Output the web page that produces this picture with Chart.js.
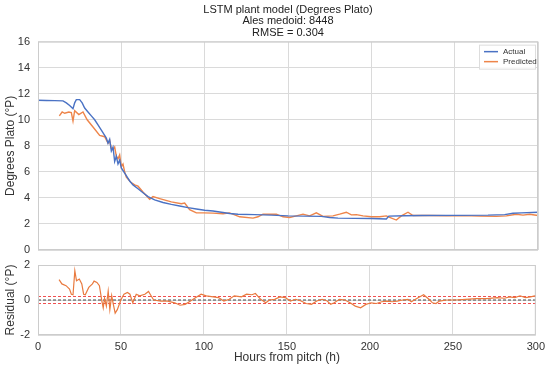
<!DOCTYPE html>
<html>
<head>
<meta charset="utf-8">
<script src="https://cdn.jsdelivr.net/npm/chart.js@4.4.0/dist/chart.umd.min.js"></script>
<style>
  html, body { margin: 0; padding: 0; background: #fff; }
  #wrap { position: relative; width: 550px; height: 368px; }
  #topChart { position: absolute; left: 0; top: 0; }
  #resChart { position: absolute; left: 0; top: 258px; }
</style>
</head>
<body>
<div id="wrap">
  <canvas id="topChart" width="550" height="258"></canvas>
  <canvas id="resChart" width="550" height="110"></canvas>
</div>
<script>
// values
const titleLines = ['LSTM plant model (Degrees Plato)', 'Ales medoid: 8448', 'RMSE = 0.304'];

const actualHours = [0, 5, 10, 15, 17, 19, 21, 22, 23, 25, 26.5, 28, 30, 32, 34, 36, 38, 40, 41, 42, 43, 44, 45, 46, 47, 48, 49, 50,
  52, 55, 57, 60, 63, 66, 70, 75, 80, 85, 90, 95, 100, 105, 110, 115, 120, 130, 140, 150, 160, 170, 175, 180, 190, 200, 209,
  210.5, 220, 230, 250, 270, 280, 285, 290, 300];
const actualPlato = [11.5, 11.48, 11.47, 11.45, 11.3, 11.1, 10.85, 11.3, 11.55, 11.55, 11.3, 10.9, 10.6, 10.3, 10.0, 9.6, 9.2, 8.8, 8.6, 8.2, 8.5, 7.6, 7.9, 6.8, 7.2, 6.6, 6.9, 6.3,
  5.9, 5.3, 5.0, 4.7, 4.4, 4.1, 3.85, 3.65, 3.5, 3.38, 3.25, 3.15, 3.05, 3.0, 2.9, 2.8, 2.75, 2.72, 2.68, 2.62, 2.6, 2.58, 2.5, 2.45, 2.43, 2.42, 2.38,
  2.6, 2.63, 2.65, 2.66, 2.68, 2.72, 2.82, 2.85, 2.9];

const predHours = [12.8, 14.5, 16, 18.5, 20, 21, 22, 24.5, 27, 29.5, 33, 37, 40, 42, 43, 44, 45, 46, 47, 48, 49, 50, 51, 52, 53, 55.7, 58, 60,
  63, 67, 69, 73, 80, 86, 88, 91, 95, 99.5, 105, 111, 115, 121, 129, 132, 135, 143, 147, 151, 155, 159, 163, 167, 171, 177, 181, 185, 188,
  191, 195, 200, 205, 209, 211, 215, 218, 222, 225, 235, 245, 255, 265, 275, 281, 287, 291, 295, 300];
const predPlato = [10.3, 10.6, 10.5, 10.6, 10.55, 9.9, 10.7, 10.4, 10.6, 10.0, 9.45, 8.8, 8.7, 8.2, 8.4, 7.8, 7.7, 7.9, 7.2, 7.0, 7.3, 6.4, 6.6, 6.0, 5.6, 5.2, 5.0, 4.9,
  4.45, 3.9, 4.1, 3.95, 3.7, 3.55, 3.6, 3.1, 2.85, 2.85, 2.83, 2.78, 2.85, 2.55, 2.45, 2.55, 2.75, 2.75, 2.55, 2.5, 2.62, 2.75, 2.62, 2.85, 2.58, 2.62, 2.75, 2.9, 2.7,
  2.72, 2.62, 2.55, 2.55, 2.62, 2.5, 2.3, 2.62, 2.9, 2.65, 2.65, 2.63, 2.64, 2.6, 2.58, 2.62, 2.75, 2.68, 2.75, 2.65];

const residHours = [12.7, 14.4, 16.9, 19.0, 20.1, 21.1, 22.2, 23.2, 24.9, 26.4, 27.5, 28.5, 30.6, 32.8, 33.8, 35.5, 37.0, 38.5, 39.3, 40.1,
  41.2, 42.3, 43.3, 44.4, 45.4, 46.5, 47.8, 49.7, 50.7, 51.8, 53.9, 55.4, 57.1, 59.2, 61.3, 64.4, 66.6, 67.6, 69.7, 74.0, 78.2, 82.4,
  85.6, 88.7, 91.9, 95.1, 98.3, 101.4, 105.7, 108.8, 112.0, 115.2, 118.3, 122.6, 125.7, 128.9, 131.0, 134.2, 137.3, 139.5, 142.6,
  145.8, 149.0, 152.1, 155.3, 158.5, 161.6, 164.8, 168.0, 171.2, 174.3, 176.4, 178.5, 181.7, 184.9, 188.1, 191.2, 194.4, 197.6,
  200.7, 203.9, 207.1, 210.2, 213.4, 216.6, 219.8, 222.9, 225.0, 229.3, 232.4, 235.6, 237.7, 239.8, 241.9, 246.2, 251.4, 257.8,
  264.1, 270.5, 276.8, 281.0, 284.2, 287.4, 290.5, 293.7, 296.9, 300];
const residValues = [1.16, 0.92, 0.82, 0.63, 0.33, 0.3, 1.67, 1.1, 1.2, 0.92, 0.33, 0.3, 0.72, 0.92, 1.08, 1.0, 0.82, -0.06, -0.45, 0.1,
  -0.35, 0.5, -0.55, 0.25, -0.25, -0.75, -0.55, -0.06, 0.14, 0.33, 0.43, 0.33, -0.16, 0.33, 0.24, 0.33, 0.49, 0.33, 0.0, -0.06, -0.06, -0.16,
  -0.3, -0.25, -0.06, 0.14, 0.33, 0.24, 0.18, 0.14, -0.06, 0.04, 0.24, 0.18, 0.33, 0.3, 0.37, 0.04, -0.16, 0.0, 0.04,
  0.18, 0.14, -0.06, 0.04, -0.06, -0.2, -0.25, -0.06, 0.04, -0.06, -0.25, -0.16, 0.04, 0.0, -0.16, -0.35, -0.45, -0.25,
  -0.16, -0.2, -0.1, -0.06, -0.1, -0.06, 0.0, 0.04, -0.1, 0.14, 0.3, 0.04, -0.16, -0.2, -0.06, 0.0, 0.0, 0.04,
  0.08, 0.08, 0.14, 0.1, 0.18, 0.14, 0.24, 0.14, 0.18, 0.25];

const bandHours = [0, 300];
const zeroLine = [0, 0];
const upperBand = [0.2, 0.2];
const lowerBand = [-0.2, -0.2];

const xTicks = [0, 50, 100, 150, 200, 250, 300];

const FONT = "'Liberation Sans', Arial, sans-serif";
const TXT = '#333333';
const GRID = '#dadada';
const BLUE = '#4a72c4';
const ORANGE = '#ee854a';

function pts(xs, ys) {
  return xs.map((x, i) => ({ x: x, y: ys[i] }));
}

// light grey frame round the plot area, like the seaborn whitegrid style
const framePlugin = {
  id: 'frame',
  afterDraw(chart) {
    const a = chart.chartArea, c = chart.ctx;
    c.save();
    c.strokeStyle = '#cccccc';
    c.lineWidth = 1;
    c.strokeRect(a.left + 0.5, a.top + 0.5, a.right - a.left - 1, a.bottom - a.top - 1);
    c.restore();
  }
};

// legend box drawn inside the top right corner
const cornerLegend = {
  id: 'cornerLegend',
  afterDraw(chart) {
    const a = chart.chartArea, c = chart.ctx;
    const w = 56, h = 24;
    const x0 = a.right - w - 3, y0 = a.top + 3;
    c.save();
    c.fillStyle = 'rgba(255,255,255,0.85)';
    c.fillRect(x0, y0, w, h);
    c.strokeStyle = '#dddddd';
    c.lineWidth = 1;
    c.strokeRect(x0 + 0.5, y0 + 0.5, w, h);
    c.font = '8px ' + FONT;
    c.textBaseline = 'middle';
    chart.data.datasets.forEach((ds, i) => {
      const y = y0 + 7 + i * 10;
      c.strokeStyle = ds.borderColor;
      c.lineWidth = 1.5;
      c.beginPath();
      c.moveTo(x0 + 5, y);
      c.lineTo(x0 + 19, y);
      c.stroke();
      c.fillStyle = TXT;
      c.fillText(ds.label, x0 + 24, y);
    });
    c.restore();
  }
};

function xAxis(showLabels) {
  return {
    type: 'linear',
    min: 0,
    max: 300,
    afterBuildTicks: axis => { axis.ticks = xTicks.map(v => ({ value: v })); },
    afterFit: axis => { axis.height = showLabels ? 31 : 0; },
    grid: { color: GRID, drawTicks: false },
    border: { display: false },
    ticks: { display: showLabels, padding: 5, color: TXT, font: { family: FONT, size: 11 } },
    title: { display: showLabels, text: 'Hours from pitch (h)', color: TXT, padding: { top: 1, bottom: 1 }, font: { family: FONT, size: 12 } }
  };
}

// fixed width for the y axis and no extra room asked for the end labels
function fixYAxis(axis) {
  axis.width = 38;
  axis.paddingTop = 0;
  axis.paddingBottom = 0;
}

function yTitle(text) {
  return { display: true, text: text, color: TXT, padding: { top: 3, bottom: 0 }, font: { family: FONT, size: 12 } };
}

new Chart(document.getElementById('topChart'), {
  type: 'line',
  data: {
    datasets: [
      { label: 'Actual', data: pts(actualHours, actualPlato), borderColor: BLUE, borderWidth: 1.4, pointRadius: 0, tension: 0 },
      { label: 'Predicted', data: pts(predHours, predPlato), borderColor: ORANGE, borderWidth: 1.4, pointRadius: 0, tension: 0 }
    ]
  },
  options: {
    responsive: false,
    animation: false,
    layout: { padding: { left: 0, right: 12, top: 0, bottom: 8 } },
    plugins: {
      legend: { display: false },
      tooltip: { enabled: false },
      title: {
        display: true,
        fullSize: false,
        text: titleLines,
        color: '#222222',
        font: { family: FONT, size: 11, weight: 'normal', lineHeight: 1.05 },
        padding: { top: 4, bottom: 3 }
      }
    },
    scales: {
      x: xAxis(false),
      y: {
        min: 0,
        max: 16,
        afterFit: fixYAxis,
        grid: { color: GRID, drawTicks: false },
        border: { display: false },
        ticks: { stepSize: 2, padding: 8, color: TXT, font: { family: FONT, size: 11 } },
        title: yTitle('Degrees Plato (°P)')
      }
    }
  },
  plugins: [framePlugin, cornerLegend]
});

new Chart(document.getElementById('resChart'), {
  type: 'line',
  data: {
    datasets: [
      { label: 'Residual', data: pts(residHours, residValues), borderColor: '#e97a3f', borderWidth: 1.2, pointRadius: 0, tension: 0 },
      { label: 'zero', data: pts(bandHours, zeroLine), borderColor: '#444444', borderWidth: 1, borderDash: [3, 2], pointRadius: 0 },
      { label: 'upper', data: pts(bandHours, upperBand), borderColor: '#f05050', borderWidth: 1, borderDash: [3, 2], pointRadius: 0 },
      { label: 'lower', data: pts(bandHours, lowerBand), borderColor: '#f05050', borderWidth: 1, borderDash: [3, 2], pointRadius: 0 }
    ]
  },
  options: {
    responsive: false,
    animation: false,
    layout: { padding: { left: 0, right: 12, top: 7, bottom: 2 } },
    plugins: { legend: { display: false }, tooltip: { enabled: false } },
    scales: {
      x: xAxis(true),
      y: {
        min: -2,
        max: 2,
        afterFit: fixYAxis,
        grid: { color: GRID, drawTicks: false },
        border: { display: false },
        ticks: { stepSize: 2, padding: 8, color: TXT, font: { family: FONT, size: 11 } },
        title: yTitle('Residual (°P)')
      }
    }
  },
  plugins: [framePlugin]
});
</script>
</body>
</html>
